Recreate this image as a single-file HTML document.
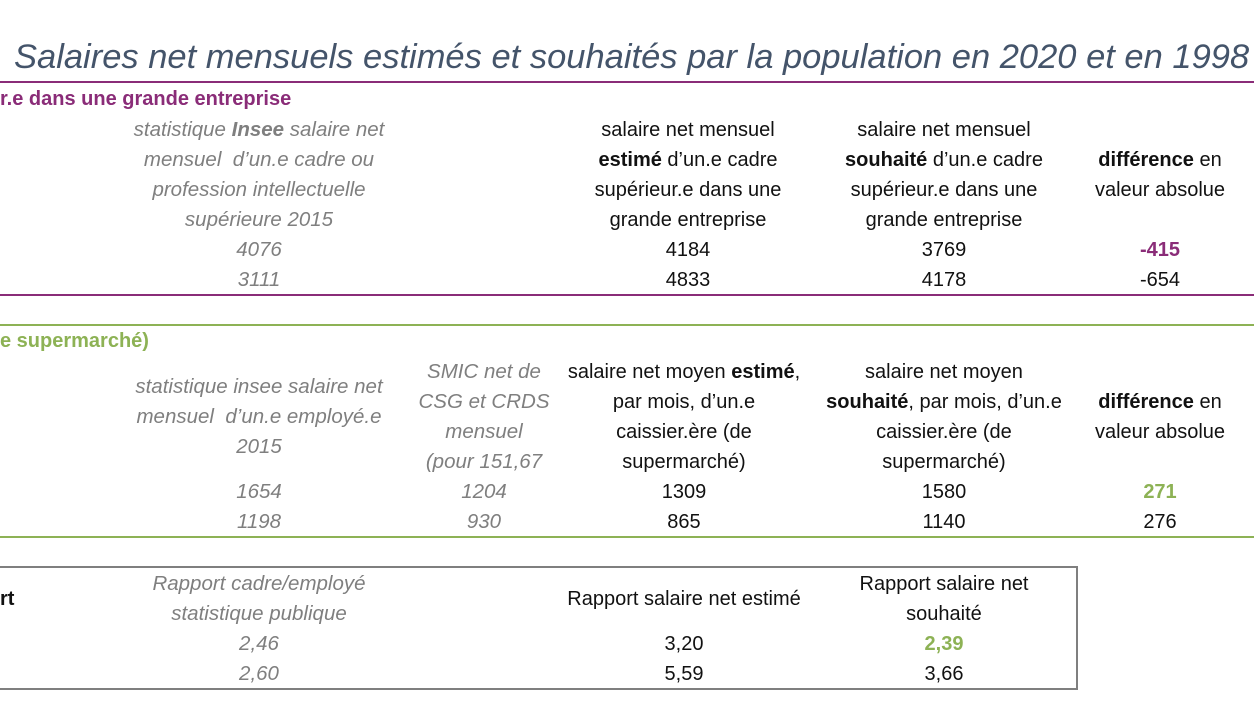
<!DOCTYPE html>
<html><head><meta charset="utf-8"><style>
body{margin:0;width:1254px;height:705px;background:#fff;overflow:hidden;position:relative;font-family:"Liberation Sans",sans-serif;font-size:20px;color:#111}
.t{position:absolute;white-space:nowrap;transform:translateX(-50%);text-align:center;line-height:30px}
.g{color:#7f7f7f;font-style:italic;font-size:20.5px}
.l{position:absolute;left:0;height:2px}
b{font-weight:bold}
</style></head><body>
<div style="position:absolute;left:14px;top:38px;font-size:34.5px;font-style:italic;color:#44546a;white-space:nowrap">Salaires net mensuels estimés et souhaités par la population en 2020 et en 1998</div>
<div class="l" style="top:81px;width:1254px;background:#8a2c78"></div>
<div style="position:absolute;left:0;top:86px;font-weight:bold;color:#8a2c78;line-height:26px">r.e dans une grande entreprise</div>

<div class="t g" style="left:259px;top:115px">statistique <b>Insee</b> salaire net<br>mensuel &nbsp;d’un.e cadre ou<br>profession intellectuelle<br>supérieure 2015<br>4076<br>3111</div>
<div class="t" style="left:688px;top:115px">salaire net mensuel<br><b>estimé</b> d’un.e cadre<br>supérieur.e dans une<br>grande entreprise<br>4184<br>4833</div>
<div class="t" style="left:944px;top:115px">salaire net mensuel<br><b>souhaité</b> d’un.e cadre<br>supérieur.e dans une<br>grande entreprise<br>3769<br>4178</div>
<div class="t" style="left:1160px;top:145px"><b>différence</b> en<br>valeur absolue</div>
<div class="t" style="left:1160px;top:235px;color:#8a2c78;font-weight:bold">-415</div>
<div class="t" style="left:1160px;top:265px">-654</div>
<div class="l" style="top:294px;width:1254px;background:#8a2c78"></div>

<div class="l" style="top:324px;width:1254px;background:#8db255"></div>
<div style="position:absolute;left:0;top:328px;font-weight:bold;color:#8db255;line-height:26px">e supermarché)</div>
<div class="t g" style="left:259px;top:372px">statistique insee salaire net<br>mensuel &nbsp;d’un.e employé.e<br>2015</div>
<div class="t g" style="left:484px;top:357px">SMIC net de<br>CSG et CRDS<br>mensuel<br>(pour 151,67</div>
<div class="t g" style="left:259px;top:477px">1654<br>1198</div>
<div class="t g" style="left:484px;top:477px">1204<br>930</div>
<div class="t" style="left:684px;top:357px">salaire net moyen <b>estimé</b>,<br>par mois, d’un.e<br>caissier.ère (de<br>supermarché)<br>1309<br>865</div>
<div class="t" style="left:944px;top:357px">salaire net moyen<br><b>souhaité</b>, par mois, d’un.e<br>caissier.ère (de<br>supermarché)<br>1580<br>1140</div>
<div class="t" style="left:1160px;top:387px"><b>différence</b> en<br>valeur absolue</div>
<div class="t" style="left:1160px;top:477px;color:#8db255;font-weight:bold">271</div>
<div class="t" style="left:1160px;top:507px">276</div>
<div class="l" style="top:536px;width:1254px;background:#8db255"></div>

<div style="position:absolute;left:-10px;top:566px;width:1084px;height:120px;border:2px solid #7f7f7f"></div>
<div style="position:absolute;left:0;top:584px;font-weight:bold;line-height:30px">rt</div>
<div class="t g" style="left:259px;top:569px">Rapport cadre/employé<br>statistique publique<br>2,46<br>2,60</div>
<div class="t" style="left:684px;top:584px">Rapport salaire net estimé</div>
<div class="t" style="left:684px;top:629px">3,20<br>5,59</div>
<div class="t" style="left:944px;top:569px">Rapport salaire net<br>souhaité<br><span style="color:#8db255;font-weight:bold">2,39</span><br>3,66</div>
</body></html>
